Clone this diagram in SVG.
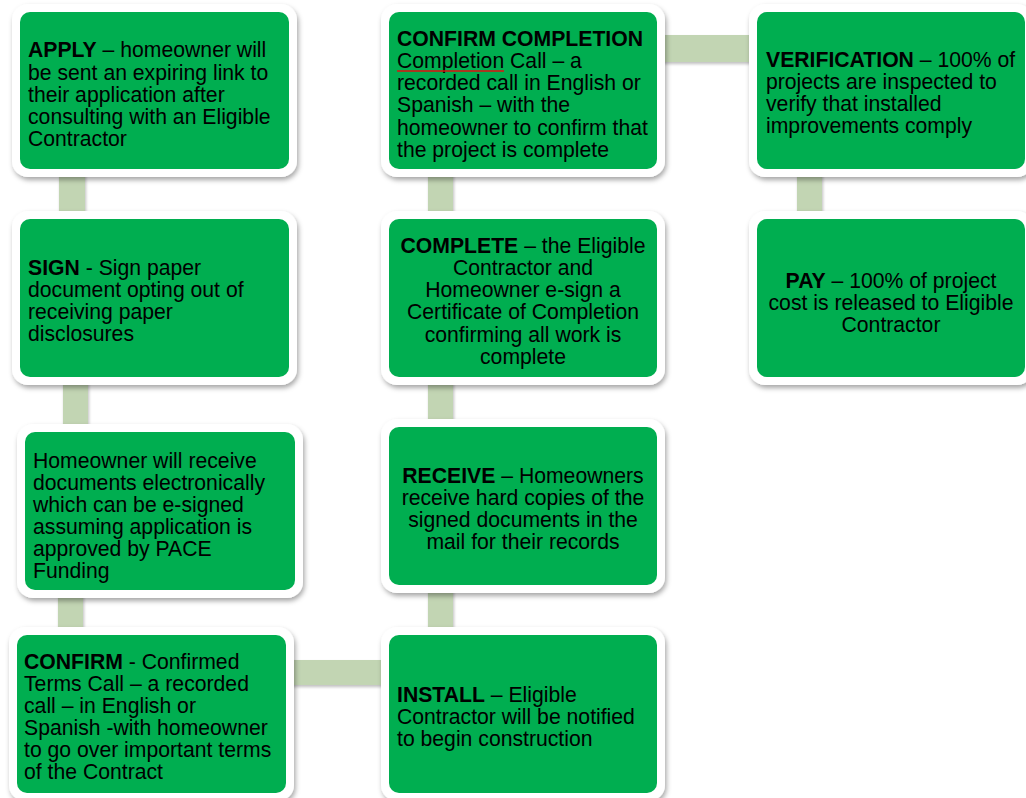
<svg xmlns="http://www.w3.org/2000/svg" width="1026" height="798" viewBox="0 0 1026 798">
<defs>
<filter id="sh" x="-10%" y="-10%" width="125%" height="130%">
<feDropShadow dx="1.5" dy="3" stdDeviation="2.5" flood-color="#000" flood-opacity="0.35"/>
</filter>
<filter id="shc" x="-20%" y="-20%" width="140%" height="160%">
<feDropShadow dx="1" dy="2" stdDeviation="1.5" flood-color="#000" flood-opacity="0.25"/>
</filter>
</defs>
<style>
.outer{fill:#ffffff;filter:url(#sh)}
.inner{fill:#00AE50}
.conn{fill:#C2D5B3;filter:url(#shc)}
text{font-family:"Liberation Sans",Arial,sans-serif;font-size:21.2px;fill:#000}
.b{font-weight:bold}
.c{text-anchor:middle}
</style>
<rect width="1026" height="798" fill="#ffffff"/>
<g id="connectors">
<rect class="conn" x="59" y="170" width="26" height="55"/>
<rect class="conn" x="63" y="375" width="25" height="62"/>
<rect class="conn" x="58" y="590" width="25" height="50"/>
<rect class="conn" x="290" y="660" width="100" height="25"/>
<rect class="conn" x="428" y="170" width="25" height="470"/>
<rect class="conn" x="660" y="35" width="100" height="27"/>
<rect class="conn" x="797" y="170" width="25" height="55"/>
</g>
<g id="apply">
<rect class="outer" x="12" y="4" width="285" height="173" rx="16"/>
<rect class="inner" x="20" y="12" width="269" height="157" rx="10"/>
<text x="28" y="57"><tspan class="b">APPLY</tspan> – homeowner will</text>
<text x="28" y="80">be sent an expiring link to</text>
<text x="28" y="102">their application after</text>
<text x="28" y="124">consulting with an Eligible</text>
<text x="28" y="146">Contractor</text>
</g>
<g id="sign">
<rect class="outer" x="12" y="211" width="285" height="174" rx="16"/>
<rect class="inner" x="20" y="219" width="269" height="158" rx="10"/>
<text x="28" y="275"><tspan class="b">SIGN</tspan> - Sign paper</text>
<text x="28" y="297">document opting out of</text>
<text x="28" y="319">receiving paper</text>
<text x="28" y="341">disclosures</text>
</g>
<g id="receive-docs">
<rect class="outer" x="17" y="424" width="286" height="174" rx="16"/>
<rect class="inner" x="25" y="432" width="270" height="158" rx="10"/>
<text x="33" y="468">Homeowner will receive</text>
<text x="33" y="490">documents electronically</text>
<text x="33" y="512">which can be e-signed</text>
<text x="33" y="534">assuming application is</text>
<text x="33" y="556">approved by PACE</text>
<text x="33" y="578">Funding</text>
</g>
<g id="confirm">
<rect class="outer" x="9" y="627" width="285" height="174" rx="16"/>
<rect class="inner" x="17" y="635" width="269" height="158" rx="10"/>
<text x="24" y="669"><tspan class="b">CONFIRM</tspan> - Confirmed</text>
<text x="24" y="691">Terms Call – a recorded</text>
<text x="24" y="713">call – in English or</text>
<text x="24" y="735">Spanish -with homeowner</text>
<text x="24" y="757">to go over important terms</text>
<text x="24" y="779">of the Contract</text>
</g>
<g id="install">
<rect class="outer" x="381" y="627" width="284" height="174" rx="16"/>
<rect class="inner" x="389" y="635" width="268" height="158" rx="10"/>
<text x="397" y="702"><tspan class="b">INSTALL</tspan> – Eligible</text>
<text x="397" y="724">Contractor will be notified</text>
<text x="397" y="746">to begin construction</text>
</g>
<g id="receive">
<rect class="outer" x="381" y="419" width="284" height="174" rx="16"/>
<rect class="inner" x="389" y="427" width="268" height="158" rx="10"/>
<text class="c" x="523" y="483"><tspan class="b">RECEIVE</tspan> – Homeowners</text>
<text class="c" x="523" y="505">receive hard copies of the</text>
<text class="c" x="523" y="527">signed documents in the</text>
<text class="c" x="523" y="549">mail for their records</text>
</g>
<g id="complete">
<rect class="outer" x="381" y="211" width="284" height="174" rx="16"/>
<rect class="inner" x="389" y="219" width="268" height="158" rx="10"/>
<text class="c" x="523" y="253"><tspan class="b">COMPLETE</tspan> – the Eligible</text>
<text class="c" x="523" y="275">Contractor and</text>
<text class="c" x="523" y="297">Homeowner e-sign a</text>
<text class="c" x="523" y="319">Certificate of Completion</text>
<text class="c" x="523" y="342">confirming all work is</text>
<text class="c" x="523" y="364">complete</text>
</g>
<g id="confirm-completion">
<rect class="outer" x="381" y="4" width="284" height="173" rx="16"/>
<rect class="inner" x="389" y="12" width="268" height="157" rx="10"/>
<text class="b" x="397" y="46">CONFIRM COMPLETION</text>
<text x="397" y="68">Completion Call – a</text>
<line x1="397" y1="71" x2="504" y2="71" stroke="#E01010" stroke-width="1.6"/>
<text x="397" y="90">recorded call in English or</text>
<text x="397" y="112">Spanish – with the</text>
<text x="397" y="135">homeowner to confirm that</text>
<text x="397" y="157">the project is complete</text>
</g>
<g id="verification">
<rect class="outer" x="749" y="4" width="284" height="173" rx="16"/>
<rect class="inner" x="757" y="12" width="268" height="157" rx="10"/>
<text x="766" y="67"><tspan class="b">VERIFICATION</tspan> – 100% of</text>
<text x="766" y="89">projects are inspected to</text>
<text x="766" y="111">verify that installed</text>
<text x="766" y="133">improvements comply</text>
</g>
<g id="pay">
<rect class="outer" x="749" y="211" width="284" height="174" rx="16"/>
<rect class="inner" x="757" y="219" width="268" height="158" rx="10"/>
<text class="c" x="891" y="288"><tspan class="b">PAY</tspan> – 100% of project</text>
<text class="c" x="891" y="310">cost is released to Eligible</text>
<text class="c" x="891" y="332">Contractor</text>
</g>
</svg>
